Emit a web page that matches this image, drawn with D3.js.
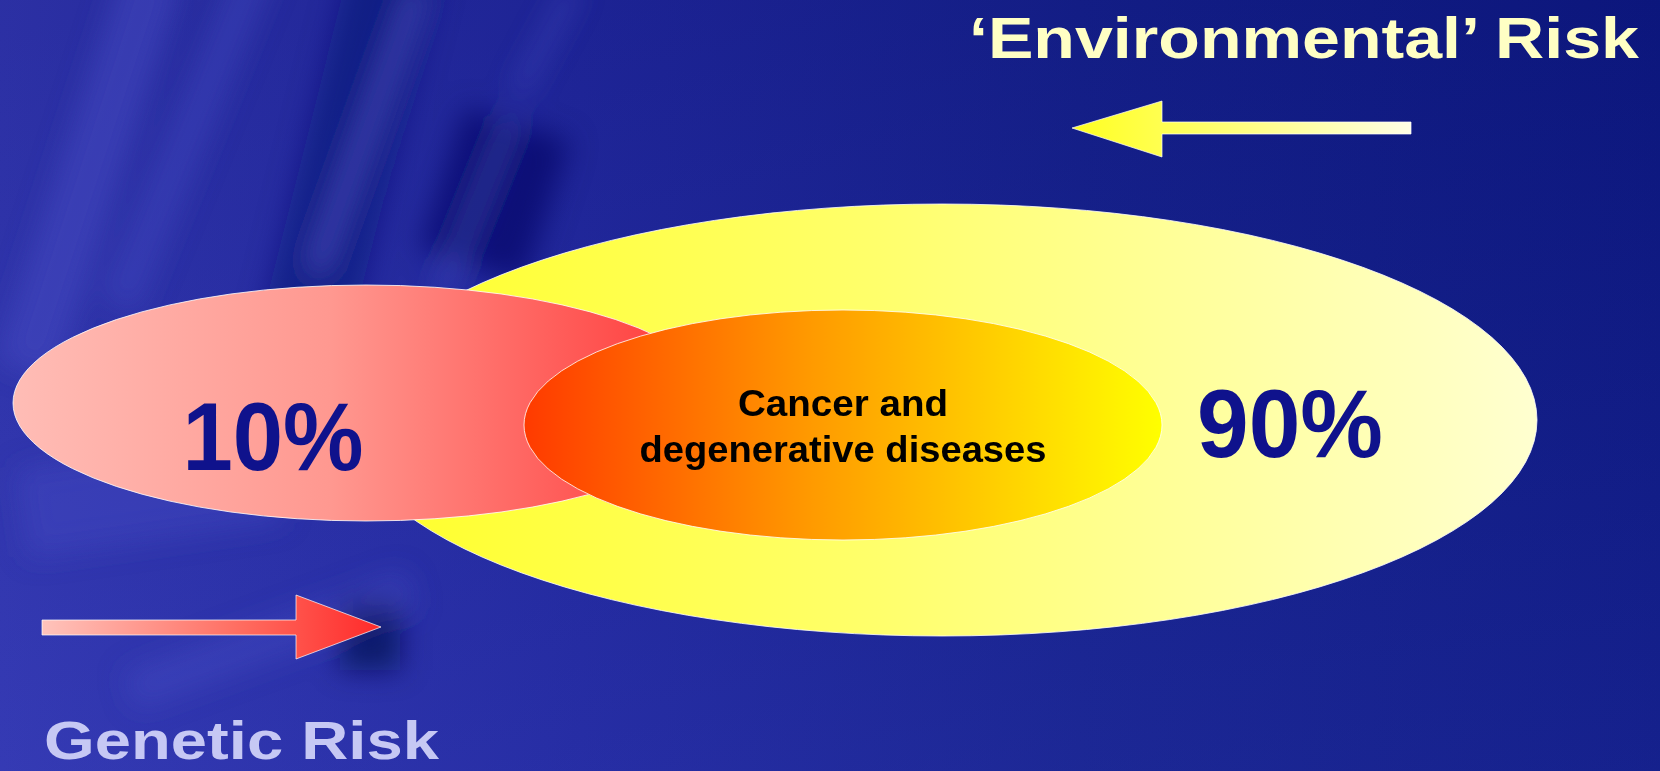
<!DOCTYPE html>
<html>
<head>
<meta charset="utf-8">
<script src="https://cdn.jsdelivr.net/npm/d3@7"></script>
<style>
  html, body { margin: 0; padding: 0; background: #1a2290; }
  svg { display: block; }
</style>
</head>
<body>
<svg id="chart"></svg>
<script>
// data
const riskNames = ["Genetic Risk", "\u2018Environmental\u2019 Risk"];
const riskShares = [10, 90];
const overlapLabel = ["Cancer and", "degenerative diseases"];

const width = 1660;
const height = 771;

const svg = d3.select("#chart")
              .attr("width", width)
              .attr("height", height)
              .style("font-family", "'Liberation Sans', Arial, sans-serif");

const defs = svg.append("defs");

// gradients
function linGrad(id, stops) {
    const g = defs.append("linearGradient").attr("id", id)
                  .attr("x1", "0%").attr("x2", "100%")
                  .attr("y1", "0%").attr("y2", "0%");
    stops.forEach(s => g.append("stop").attr("offset", s[0]).attr("stop-color", s[1]));
}
linGrad("bg", [["0%", "#3338b2"], ["35%", "#2229a0"], ["65%", "#16228e"], ["100%", "#0e1a84"]]);
linGrad("redFill", [["0%", "#ffbdb6"], ["45%", "#ff9890"], ["100%", "#ff3434"]]);
linGrad("yellowFill", [["0%", "#ffff28"], ["45%", "#ffff6c"], ["100%", "#ffffd0"]]);
linGrad("innerFill", [["0%", "#ff3a00"], ["45%", "#ff9a00"], ["100%", "#ffff00"]]);
linGrad("redArrow", [["0%", "#ffc4bc"], ["60%", "#ff6a5e"], ["100%", "#ff2a2a"]]);
linGrad("yellowArrow", [["0%", "#ffff20"], ["35%", "#ffff60"], ["100%", "#ffffe6"]]);

const vGrad = defs.append("linearGradient").attr("id", "bgShade")
                  .attr("x1", "0%").attr("x2", "0%").attr("y1", "0%").attr("y2", "100%");
vGrad.append("stop").attr("offset", "0%").attr("stop-color", "#000050").attr("stop-opacity", 0.15);
vGrad.append("stop").attr("offset", "100%").attr("stop-color", "#4048c0").attr("stop-opacity", 0.15);

defs.append("filter").attr("id", "blur").attr("x", "-50%").attr("y", "-50%")
    .attr("width", "200%").attr("height", "200%")
    .append("feGaussianBlur").attr("stdDeviation", 14);

// background
svg.append("rect").attr("width", width).attr("height", height).attr("fill", "url(#bg)");
svg.append("rect").attr("width", width).attr("height", height).attr("fill", "url(#bgShade)");

// texture on the left side of the background
const streaks = [
    {x: 60,  y: -40, w: 60, h: 420, a: 18, c: "#4a50c8", o: 0.45},
    {x: 170, y: -60, w: 40, h: 380, a: 22, c: "#4a50c8", o: 0.35},
    {x: 300, y: -40, w: 90, h: 420, a: 14, c: "#0a0f70", o: 0.5},
    {x: 360, y: -20, w: 14, h: 300, a: 20, c: "#5a60d8", o: 0.6},
    {x: 440, y: 120, w: 110, h: 150, a: 18, c: "#050a60", o: 0.6},
    {x: 470, y: 110, w: 10, h: 200, a: 22, c: "#5a60d8", o: 0.5},
    {x: 540, y: -20, w: 12, h: 120, a: 28, c: "#5a60d8", o: 0.4},
    {x: 20,  y: 450, w: 260, h: 90, a: -8, c: "#4a50c8", o: 0.35},
    {x: 340, y: 600, w: 60, h: 70, a: 0, c: "#050a50", o: 0.7},
    {x: 120, y: 620, w: 300, h: 40, a: -20, c: "#5056cc", o: 0.3}
];
svg.append("g").attr("filter", "url(#blur)")
   .selectAll("rect").data(streaks).enter().append("rect")
   .attr("x", d => d.x).attr("y", d => d.y)
   .attr("width", d => d.w).attr("height", d => d.h)
   .attr("transform", d => `rotate(${d.a},${d.x + d.w / 2},${d.y + d.h / 2})`)
   .attr("fill", d => d.c).attr("opacity", d => d.o);

// ellipses: environmental (big), genetic, overlap
const ellipses = [
    {cx: 942, cy: 420, rx: 595, ry: 216, fill: "url(#yellowFill)"},
    {cx: 366, cy: 403, rx: 353, ry: 118, fill: "url(#redFill)"},
    {cx: 843, cy: 425, rx: 319, ry: 115, fill: "url(#innerFill)"}
];
svg.append("g").selectAll("ellipse").data(ellipses).enter().append("ellipse")
   .attr("cx", d => d.cx).attr("cy", d => d.cy)
   .attr("rx", d => d.rx).attr("ry", d => d.ry)
   .attr("fill", d => d.fill)
   .attr("stroke", "#ffffff").attr("stroke-width", 1).attr("stroke-opacity", 0.8);

// percentage labels
const pctPos = [{x: 273, y: 470, len: 181}, {x: 1290, y: 457, len: 186}];
svg.append("g").selectAll("text").data(riskShares).enter().append("text")
   .attr("x", (d, i) => pctPos[i].x - pctPos[i].len / 2)
   .attr("y", (d, i) => pctPos[i].y)
   .attr("textLength", (d, i) => pctPos[i].len)
   .attr("lengthAdjust", "spacingAndGlyphs")
   .attr("font-size", 96).attr("font-weight", "bold")
   .attr("fill", "#0f128c")
   .text(d => d + "%");

// overlap label
const lineY = [416, 462];
const lineLen = [210, 407];
svg.append("g").selectAll("text").data(overlapLabel).enter().append("text")
   .attr("x", (d, i) => 843 - lineLen[i] / 2)
   .attr("y", (d, i) => lineY[i])
   .attr("textLength", (d, i) => lineLen[i])
   .attr("lengthAdjust", "spacingAndGlyphs")
   .attr("font-size", 37).attr("font-weight", "bold")
   .attr("fill", "#000000")
   .text(d => d);

// arrows
const line = d3.line();
const arrowShapes = [
    // genetic: pointing right
    {pts: [[42, 620], [296, 620], [296, 595], [381, 627], [296, 659], [296, 635], [42, 635]], fill: "url(#redArrow)"},
    // environmental: pointing left
    {pts: [[1411, 122], [1162, 122], [1162, 101], [1072, 128], [1162, 157], [1162, 134], [1411, 134]], fill: "url(#yellowArrow)"}
];
svg.append("g").selectAll("path").data(arrowShapes).enter().append("path")
   .attr("d", d => line(d.pts) + "Z")
   .attr("fill", d => d.fill)
   .attr("stroke", "#ffffff").attr("stroke-width", 1).attr("stroke-opacity", 0.7);

// risk titles
svg.append("text")
   .attr("x", 44).attr("y", 759)
   .attr("textLength", 395).attr("lengthAdjust", "spacingAndGlyphs")
   .attr("font-size", 54).attr("font-weight", "bold")
   .attr("fill", "#c6c8f4")
   .text(riskNames[0]);

svg.append("text")
   .attr("x", 969).attr("y", 58)
   .attr("textLength", 670).attr("lengthAdjust", "spacingAndGlyphs")
   .attr("font-size", 58).attr("font-weight", "bold")
   .attr("fill", "#ffffc4")
   .text(riskNames[1]);
</script>
</body>
</html>
